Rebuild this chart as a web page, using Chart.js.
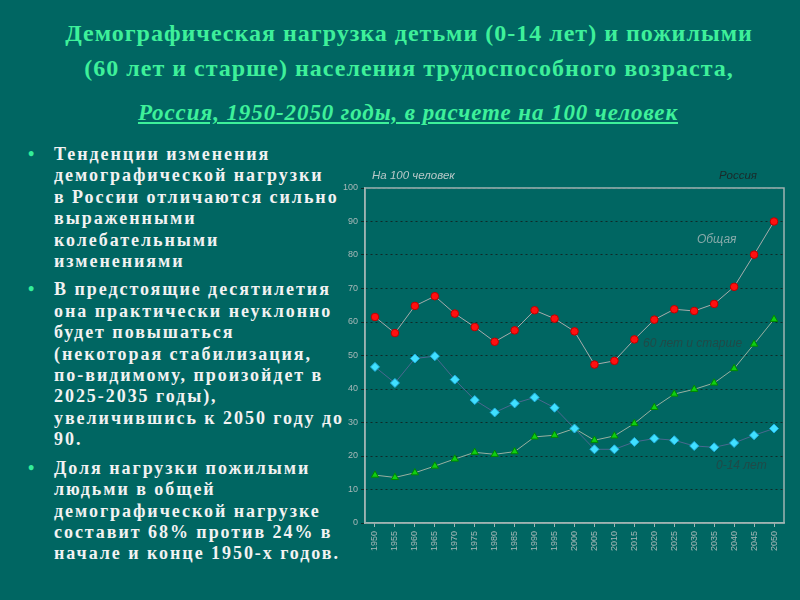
<!DOCTYPE html>
<html lang="ru">
<head>
<meta charset="utf-8">
<script src="https://cdn.jsdelivr.net/npm/chart.js@4/dist/chart.umd.min.js"></script>
<style>
  body { margin: 0; width: 800px; height: 600px; background: #006662; overflow: hidden; position: relative; font-family: "Liberation Serif", serif; }
  .title { position: absolute; left: 0; width: 818px; text-align: center; color: #3ef09a; font-weight: bold; font-size: 24px; letter-spacing: 1px; white-space: nowrap; }
  .sub { position: absolute; left: 0; width: 816px; top: 100px; text-align: center; color: #3ef09a; font-style: italic; font-weight: bold; font-size: 23px; letter-spacing: 0.9px; text-decoration: underline; white-space: nowrap; }
  ul { position: absolute; left: 24px; top: 144px; width: 330px; margin: 0; padding: 0; list-style: none; }
  li { position: relative; padding-left: 30px; color: #f2f2f2; font-weight: bold; font-size: 18px; line-height: 21.4px; margin-bottom: 7px; letter-spacing: 1.95px; white-space: nowrap; }
  li::before { content: "•"; position: absolute; left: 4px; top: 0; color: #33ee99; letter-spacing: 0; }
  #wrap { position: absolute; left: 335px; top: 160px; width: 460px; height: 410px; }
  .ann { position: absolute; font-family: "Liberation Sans", sans-serif; font-style: italic; font-size: 12px; }
</style>
</head>
<body>
<div class="title" style="top:20px">Демографическая нагрузка детьми (0-14 лет) и пожилыми</div>
<div class="title" style="top:55px">(60 лет и старше) населения трудоспособного возраста,</div>
<div class="sub">Россия, 1950-2050 годы, в расчете на 100 человек</div>
<ul>
  <li>Тенденции изменения<br>демографической нагрузки<br>в России отличаются сильно<br>выраженными<br>колебательными<br>изменениями</li>
  <li>В предстоящие десятилетия<br>она практически неуклонно<br>будет повышаться<br>(некоторая стабилизация,<br>по-видимому, произойдет в<br>2025-2035 годы),<br>увеличившись к 2050 году до<br>90.</li>
  <li>Доля нагрузки пожилыми<br>людьми в общей<br>демографической нагрузке<br>составит 68% против 24% в<br>начале и конце 1950-х годов.</li>
</ul>
<div id="wrap"><canvas id="chart" width="460" height="410"></canvas></div>
<div class="ann" style="left:372px;top:169px;font-size:11.5px;color:#b8c8c8">На 100 человек</div>
<div class="ann" style="left:719px;top:169px;font-size:11.5px;color:#1a2a2a">Россия</div>
<div class="ann" style="left:697px;top:232px;color:#88aaaa">Общая</div>
<div class="ann" style="left:643px;top:336px;color:#1f4a48">60 лет и старше</div>
<div class="ann" style="left:716px;top:458px;color:#1f4a48">0-14 лет</div>
<script>
const years = ['1950', '1955', '1960', '1965', '1970', '1975', '1980', '1985', '1990', '1995', '2000',
  '2005', '2010', '2015', '2020', '2025', '2030', '2035', '2040', '2045', '2050'];
const totalLoad = [61.5, 56.7, 64.8, 67.7, 62.5, 58.5, 54.1, 57.5, 63.5, 61.0, 57.2,
  47.3, 48.4, 54.8, 60.7, 63.8, 63.3, 65.4, 70.5, 80.1, 90.0];
const childrenLoad = [46.6, 41.8, 49.1, 49.8, 42.8, 36.7, 33.0, 35.7, 37.5, 34.4, 28.2,
  22.0, 22.0, 24.2, 25.2, 24.7, 23.0, 22.6, 23.9, 26.2, 28.2];
const elderlyLoad = [14.3, 13.6, 15.0, 17.0, 19.1, 21.1, 20.5, 21.3, 25.7, 26.2, 28.2,
  24.7, 26.0, 29.7, 34.5, 38.5, 39.9, 41.8, 46.1, 53.4, 60.8];

// рамка вокруг области графика
const frame = {
  id: 'frame',
  beforeDatasetsDraw(chart) {
    const { ctx, chartArea: a } = chart;
    ctx.save();
    ctx.strokeStyle = '#9fb4b2';
    ctx.lineWidth = 1.5;
    ctx.strokeRect(a.left, a.top, a.right - a.left, a.bottom - a.top);
    ctx.restore();
  }
};

new Chart(document.getElementById('chart'), {
  type: 'line',
  data: {
    labels: years,
    datasets: [
      {
        label: 'Общая',
        data: totalLoad,
        borderColor: '#a6acac',
        borderWidth: 1,
        pointStyle: 'circle',
        pointRadius: 3.8,
        pointBackgroundColor: '#ff1010',
        pointBorderColor: '#c00000',
        pointBorderWidth: 1
      },
      {
        label: '0-14 лет',
        data: childrenLoad,
        borderColor: '#4a6890',
        borderWidth: 1,
        pointStyle: 'rectRot',
        pointRadius: 4.5,
        pointBackgroundColor: '#40e0ff',
        pointBorderColor: '#20b0e0',
        pointBorderWidth: 1
      },
      {
        label: '60 лет и старше',
        data: elderlyLoad,
        borderColor: '#98b0a0',
        borderWidth: 1,
        pointStyle: 'triangle',
        pointRadius: 4.2,
        pointBackgroundColor: '#10d010',
        pointBorderColor: '#008800',
        pointBorderWidth: 1
      }
    ]
  },
  options: {
    responsive: false,
    animation: false,
    layout: { padding: { top: 28, right: 11, left: 0, bottom: 0 } },
    plugins: { legend: { display: false }, tooltip: { enabled: false } },
    scales: {
      x: {
        offset: true,
        grid: { display: true, drawOnChartArea: false, color: '#9fb4b2', tickLength: 4, offset: false },
        border: { color: '#9fb4b2', width: 1.5 },
        ticks: { color: '#a8b8b8', font: { size: 9, family: 'Liberation Sans' }, minRotation: 90, maxRotation: 90, autoSkip: false, padding: 4 },
        afterFit(scale) { scale.height = 47; }
      },
      y: {
        min: 0,
        max: 100,
        grid: { color: '#0e2a28', lineWidth: 1, tickLength: 4, drawTicks: true },
        border: { color: '#9fb4b2', width: 1.5, dash: [2, 3] },
        ticks: { stepSize: 10, color: '#a8b8b8', font: { size: 9, family: 'Liberation Sans' }, padding: 3 },
        afterFit(scale) { scale.width = 30; }
      }
    }
  },
  plugins: [frame]
});
</script>
</body>
</html>
